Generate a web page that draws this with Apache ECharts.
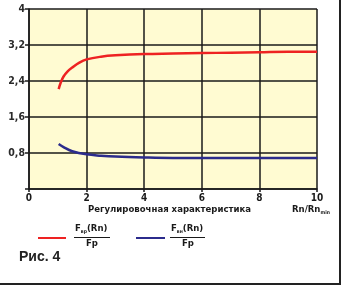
<!DOCTYPE html>
<html><head><meta charset="utf-8">
<script src="https://cdn.jsdelivr.net/npm/echarts@6/dist/echarts.min.js"></script>
<style>html,body{margin:0;padding:0;background:#fff}#c{width:344px;height:286px}</style>
</head><body><div id="c"></div>
<script>
var xTicks = [0, 2, 4, 6, 8, 10];
var yTicks = [0, 0.8, 1.6, 2.4, 3.2, 4];
var redX = [1.03, 1.1, 1.2, 1.35, 1.5, 1.75, 2, 2.5, 3, 4, 5, 6, 7, 8, 9, 10];
var redY = [2.22, 2.36, 2.5, 2.62, 2.7, 2.81, 2.88, 2.94, 2.97, 3.0, 3.01, 3.02, 3.03, 3.04, 3.05, 3.05];
var blueX = [1.03, 1.2, 1.5, 2, 2.5, 3, 4, 5, 6, 8, 10];
var blueY = [1.0, 0.93, 0.84, 0.77, 0.74, 0.72, 0.7, 0.69, 0.69, 0.69, 0.69];
var redName = 'Fвр(Rn)/Fp';
var blueName = 'Fвн(Rn)/Fp';
var xTitle = 'Регулировочная характеристика';
var xUnit = 'Rn/Rn';
var xUnitSub = 'min';
var figLabel = 'Рис. 4';

function pairs(xs, ys){ return xs.map(function(x,i){return [x, ys[i]];}); }
var FONT = '"DejaVu Sans Condensed","DejaVu Sans",sans-serif';
var chart = echarts.init(document.getElementById('c'));
chart.setOption({
  animation: false,
  backgroundColor: '#fff',
  grid: {left: 29, top: 9, width: 288, height: 180, show: true, backgroundColor: '#fffbd2', borderWidth: 0},
  xAxis: {type: 'value', min: 0, max: 10, interval: 2,
    axisLine: {show: true, lineStyle: {color: '#1a1a1a', width: 1.5}},
    axisTick: {show: true, length: 3, lineStyle: {color: '#1a1a1a', width: 1.5}},
    splitLine: {show: true, lineStyle: {color: '#1a1a1a', width: 1.5}},
    axisLabel: {margin: 4, fontFamily: FONT, fontWeight: 'bold', fontSize: 10, color: '#1a1a1a',
      formatter: function(v){ return xTicks.indexOf(v) >= 0 ? String(v) : ''; }}
  },
  yAxis: {type: 'value', min: 0, max: 4, interval: 0.8,
    axisLine: {show: true, lineStyle: {color: '#1a1a1a', width: 1.5}},
    axisTick: {show: true, length: 4, lineStyle: {color: '#1a1a1a', width: 1.5}},
    splitLine: {show: true, lineStyle: {color: '#1a1a1a', width: 1.5}},
    axisLabel: {margin: 4, fontFamily: FONT, fontWeight: 'bold', fontSize: 10.5, color: '#2a2a2a',
      formatter: function(v){ if (Math.abs(v) < 1e-9) return ''; var r = Math.round(v*10)/10; return String(r).replace('.', ','); }}
  },
  series: [
    {name: redName, type: 'line', smooth: 0.4, showSymbol: false, data: pairs(redX, redY),
     lineStyle: {color: '#ee2222', width: 2.5}, z: 5},
    {name: blueName, type: 'line', smooth: 0.4, showSymbol: false, data: pairs(blueX, blueY),
     lineStyle: {color: '#2b2b8c', width: 2.5}, z: 5}
  ],
  graphic: [
    {type: 'line', shape: {x1: 340, y1: 0, x2: 340, y2: 284}, style: {stroke: '#222', lineWidth: 2}},
    {type: 'line', shape: {x1: 0, y1: 284, x2: 341, y2: 284}, style: {stroke: '#222', lineWidth: 2}},
    {type: 'text', left: 88, top: 205, style: {text: xTitle, font: 'bold 9.5px ' + FONT, fill: '#1a1a1a'}},
    {type: 'text', left: 292, top: 205, style: {text: '{a|' + xUnit + '}{b|' + xUnitSub + '}', rich: {
      a: {font: 'bold 9.5px ' + FONT, fill: '#1a1a1a'}, b: {font: 'bold 5px ' + FONT, fill: '#1a1a1a', padding: [5,0,0,0]}}}},
    {type: 'line', shape: {x1: 38, y1: 238, x2: 66, y2: 238}, style: {stroke: '#ee2222', lineWidth: 2}},
    {type: 'line', shape: {x1: 136, y1: 238, x2: 165, y2: 238}, style: {stroke: '#2b2b8c', lineWidth: 2}},
    {type: 'text', left: 75, top: 224, style: {text: '{a|F}{b|вр}{a|(Rn)}', rich: {
      a: {font: 'bold 9.5px ' + FONT, fill: '#1a1a1a'}, b: {font: 'bold 5px ' + FONT, fill: '#1a1a1a', padding: [5,0,0,0]}}}},
    {type: 'line', shape: {x1: 74, y1: 237.5, x2: 110, y2: 237.5}, style: {stroke: '#1a1a1a', lineWidth: 1}},
    {type: 'text', left: 86, top: 239, style: {text: 'Fp', font: 'bold 9.5px ' + FONT, fill: '#1a1a1a'}},
    {type: 'text', left: 171, top: 224, style: {text: '{a|F}{b|вн}{a|(Rn)}', rich: {
      a: {font: 'bold 9.5px ' + FONT, fill: '#1a1a1a'}, b: {font: 'bold 5px ' + FONT, fill: '#1a1a1a', padding: [5,0,0,0]}}}},
    {type: 'line', shape: {x1: 170, y1: 237.5, x2: 205, y2: 237.5}, style: {stroke: '#1a1a1a', lineWidth: 1}},
    {type: 'text', left: 182, top: 239, style: {text: 'Fp', font: 'bold 9.5px ' + FONT, fill: '#1a1a1a'}},
    {type: 'text', left: 19, top: 250, style: {text: figLabel, font: 'bold 14px "Liberation Sans", Arial, sans-serif', fill: '#222'}}
  ]
});
</script></body></html>
